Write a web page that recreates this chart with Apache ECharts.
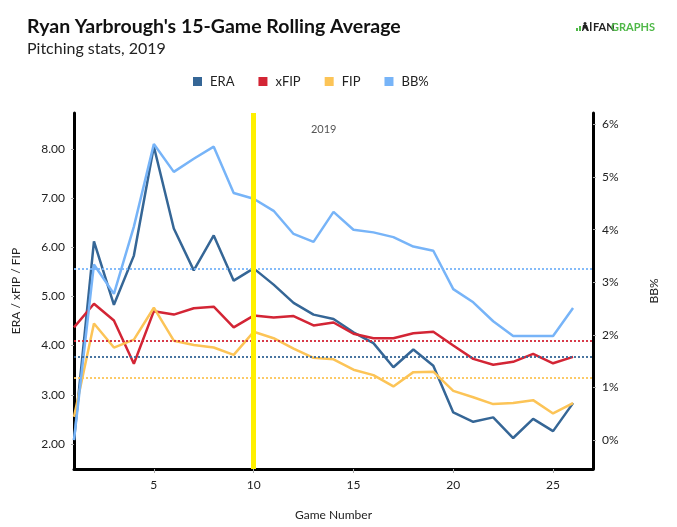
<!DOCTYPE html>
<html lang="en">

<head>
    <meta charset="UTF-8">
    <title>Ryan Yarbrough's 15-Game Rolling Average</title>
    <script src="https://cdn.jsdelivr.net/npm/echarts@6/dist/echarts.min.js"></script>
    <style>
        html, body { margin: 0; padding: 0; background: #fff; }
        #chart { width: 677px; height: 527px; }
    </style>
</head>

<body>
    <div id="chart"></div>

    <script>
        // Game numbers 1..26
        const games = [1, 2, 3, 4, 5, 6, 7, 8, 9, 10, 11, 12, 13, 14, 15, 16, 17, 18, 19, 20, 21, 22, 23, 24, 25, 26];

        // Rolling averages
        const era = [2.08, 6.12, 4.83, 5.83, 8.05, 6.38, 5.53, 6.24, 5.32, 5.57, 5.24, 4.87, 4.63, 4.54, 4.27, 4.05, 3.56, 3.92, 3.59, 2.64, 2.45, 2.54, 2.12, 2.51, 2.26, 2.83];
        const xfip = [4.37, 4.85, 4.51, 3.63, 4.70, 4.63, 4.76, 4.79, 4.37, 4.61, 4.57, 4.60, 4.41, 4.47, 4.24, 4.15, 4.15, 4.25, 4.28, 4.00, 3.73, 3.61, 3.67, 3.83, 3.64, 3.77];
        const fip = [2.55, 4.45, 3.96, 4.12, 4.77, 4.10, 4.01, 3.96, 3.81, 4.28, 4.15, 3.94, 3.75, 3.72, 3.51, 3.40, 3.17, 3.46, 3.47, 3.08, 2.95, 2.81, 2.83, 2.89, 2.62, 2.83];
        const bbPct = [0.0, 3.34, 2.78, 4.06, 5.63, 5.10, 5.35, 5.58, 4.70, 4.59, 4.36, 3.92, 3.77, 4.34, 4.00, 3.95, 3.86, 3.68, 3.60, 2.87, 2.62, 2.26, 1.98, 1.98, 1.98, 2.51];

        // Season averages (dotted lines)
        const avgEra = 3.78;
        const avgXfip = 4.09;
        const avgFip = 3.34;
        const avgBb = 3.25;

        // Season marker
        const seasonGame = 10;
        const seasonLabel = '2019';

        // Axis ticks
        const xTicks = [5, 10, 15, 20, 25];
        const leftTicks = [2, 3, 4, 5, 6, 7, 8];
        const rightTicks = [0, 1, 2, 3, 4, 5, 6];

        const colors = {
            era: '#356696',
            xfip: '#d32535',
            fip: '#fcc457',
            bb: '#77b4f8'
        };

        const pairs = vals => games.map((g, i) => [g, vals[i]]);

        function avgLine(value, color) {
            return {
                silent: true,
                symbol: 'none',
                label: { show: false },
                lineStyle: { color: color, type: [2, 2], width: 2, opacity: 0.9 },
                data: [{ yAxis: value }]
            };
        }

        const font = 'Lato, "Open Sans", sans-serif';

        const chart = echarts.init(document.getElementById('chart'), null, { renderer: 'canvas' });
        chart.setOption({
            animation: false,
            textStyle: { fontFamily: font },
            title: {
                text: "Ryan Yarbrough's 15-Game Rolling Average",
                subtext: 'Pitching stats, 2019',
                left: 22,
                top: 12,
                itemGap: 4,
                textStyle: { fontFamily: font, fontSize: 19.5, fontWeight: 'bold', color: '#111' },
                subtextStyle: { fontFamily: font, fontSize: 16, color: '#222' }
            },
            legend: {
                left: 188,
                top: 70,
                icon: 'rect',
                itemWidth: 9,
                itemHeight: 9,
                itemGap: 24,
                textStyle: { fontFamily: font, fontSize: 13, color: '#222', padding: [0, 0, 0, 3] },
                data: ['ERA', 'xFIP', 'FIP', 'BB%']
            },
            grid: { left: 74, right: 84, top: 113, bottom: 58, containLabel: false },
            xAxis: {
                type: 'value',
                min: 1,
                max: 27,
                name: 'Game Number',
                nameLocation: 'middle',
                nameGap: 40,
                nameTextStyle: { fontFamily: font, fontSize: 12, color: '#222' },
                axisLine: { onZero: false, lineStyle: { color: '#000', width: 3 } },
                axisTick: { customValues: xTicks, length: 4, lineStyle: { color: '#aaa' } },
                axisLabel: { customValues: xTicks, margin: 10, fontSize: 12, color: '#222' },
                splitLine: { show: false }
            },
            yAxis: [{
                type: 'value',
                min: 1.49,
                max: 8.73,
                name: 'ERA / xFIP / FIP',
                nameLocation: 'middle',
                nameRotate: 90,
                nameGap: 52,
                nameTextStyle: { fontFamily: font, fontSize: 12, color: '#222' },
                axisLine: { show: true, onZero: false, lineStyle: { color: '#000', width: 3 } },
                axisTick: { show: true, customValues: leftTicks, length: 3, lineStyle: { color: '#aaa' } },
                axisLabel: {
                    customValues: leftTicks, margin: 9, fontSize: 12, color: '#222',
                    formatter: v => v.toFixed(2)
                },
                splitLine: { show: false }
            }, {
                type: 'value',
                min: -0.55,
                max: 6.22,
                name: 'BB%',
                nameLocation: 'middle',
                nameRotate: 90,
                nameGap: 55,
                nameTextStyle: { fontFamily: font, fontSize: 12, color: '#222' },
                axisLine: { show: true, onZero: false, lineStyle: { color: '#000', width: 3 } },
                axisTick: { show: true, customValues: rightTicks, length: 3, lineStyle: { color: '#aaa' } },
                axisLabel: {
                    customValues: rightTicks, margin: 9, fontSize: 12, color: '#222',
                    formatter: v => v + '%'
                },
                splitLine: { show: false }
            }],
            series: [{
                name: 'ERA',
                type: 'line',
                data: pairs(era),
                symbol: 'none',
                color: colors.era,
                lineStyle: { width: 2.5 },
                markLine: avgLine(avgEra, colors.era)
            }, {
                name: 'xFIP',
                type: 'line',
                data: pairs(xfip),
                symbol: 'none',
                color: colors.xfip,
                lineStyle: { width: 2.5 },
                markLine: avgLine(avgXfip, colors.xfip)
            }, {
                name: 'FIP',
                type: 'line',
                data: pairs(fip),
                symbol: 'none',
                color: colors.fip,
                lineStyle: { width: 2.5 },
                markLine: avgLine(avgFip, colors.fip)
            }, {
                name: 'BB%',
                type: 'line',
                yAxisIndex: 1,
                data: pairs(bbPct),
                symbol: 'none',
                color: colors.bb,
                lineStyle: { width: 2.5 },
                markLine: avgLine(avgBb, colors.bb)
            }, {
                // season divider
                name: 'season',
                type: 'line',
                data: [],
                z: 10,
                markLine: {
                    silent: true,
                    symbol: 'none',
                    label: {
                        show: true,
                        position: 'end',
                        formatter: seasonLabel,
                        offset: [70, 27],
                        fontFamily: font,
                        fontSize: 11,
                        color: '#555'
                    },
                    lineStyle: { color: '#fff000', type: 'solid', width: 5 },
                    data: [{ xAxis: seasonGame }]
                }
            }],
            graphic: [{
                type: 'group',
                right: 22,
                top: 22,
                children: [
                    { type: 'rect', shape: { x: 0, y: 6, width: 2, height: 3 }, style: { fill: '#4fb848' } },
                    { type: 'rect', shape: { x: 3, y: 4, width: 2, height: 5 }, style: { fill: '#4fb848' } },
                    { type: 'circle', shape: { cx: 9, cy: 1.5, r: 1.5 }, style: { fill: '#222' } },
                    { type: 'polygon', shape: { points: [[7, 3], [11, 3], [13, 9], [11, 9], [9, 6], [7, 9], [6, 9]] }, style: { fill: '#222' } },
                    { type: 'rect', shape: { x: 14, y: 0, width: 1.5, height: 9 }, style: { fill: '#222' } },
                    {
                        type: 'text', x: 17, y: 0,
                        style: { text: 'FAN', fontFamily: font, fontSize: 11, fontWeight: 'bold', fill: '#222' }
                    },
                    {
                        type: 'text', x: 35, y: 0,
                        style: { text: 'GRAPHS', fontFamily: font, fontSize: 11, fontWeight: 'bold', fill: '#4fb848' }
                    }
                ]
            }]
        });
    </script>
</body>

</html>
